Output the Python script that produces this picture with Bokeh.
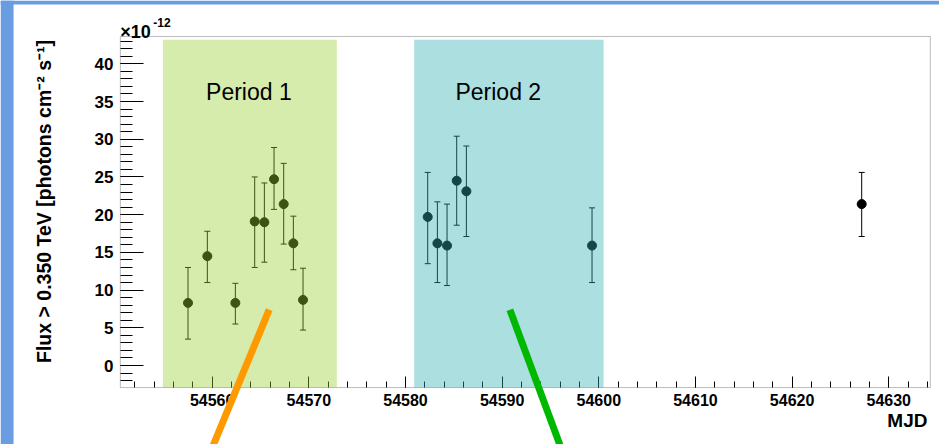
import math
from bokeh.plotting import figure
from bokeh.models import (Range1d, FixedTicker, ColumnDataSource, Whisker, TeeHead,
                          BoxAnnotation, Label, Arrow)
from bokeh.embed import file_html
from bokeh.resources import INLINE

# ---- data ----
mjd = [54557.5, 54559.5, 54562.4, 54564.4, 54565.4, 54566.4, 54567.4, 54568.4, 54569.4,
       54582.3, 54583.3, 54584.3, 54585.3, 54586.3, 54599.3,
       54627.2]
flux = [8.3, 14.5, 8.3, 19.1, 19.0, 24.7, 21.4, 16.2, 8.7,
        19.7, 16.2, 15.9, 24.5, 23.1, 15.9,
        21.4]
flux_hi = [13.0, 17.8, 10.9, 25.0, 24.2, 28.9, 26.8, 19.8, 12.9,
           25.6, 21.7, 21.4, 30.4, 29.1, 20.9,
           25.6]
flux_lo = [3.5, 11.0, 5.5, 13.0, 13.7, 20.7, 16.1, 12.7, 4.7,
           13.5, 11.0, 10.6, 18.6, 17.1, 11.0,
           17.1]

x_major_ticks = [54560, 54570, 54580, 54590, 54600, 54610, 54620, 54630]
x_minor_ticks = list(range(54552, 54635, 2))
y_major_ticks = [0, 5, 10, 15, 20, 25, 30, 35, 40]
y_minor_ticks = list(range(-2, 44))

# axis box (data limits of the plotted area)
axis_x0, axis_x1 = 54550.5, 54634.3
axis_y0, axis_y1 = -2.92, 43.62

y_title = "Flux > 0.350 TeV [photons cm\u207b\u00b2 s\u207b\u00b9]"
x_title = "MJD"

period_names = ["Period 1", "Period 2"]
period_start = [54554.9, 54580.9]
period_end = [54572.9, 54600.5]
period_top = 43.2
period_label_x = [54563.8, 54589.6]
period_label_y = 36.2
period_colors = ["#98cf2f", "#2fafb1"]

# slide pointer strokes (start/end in data units)
pointer_x0 = [54565.9, 54590.8]
pointer_y0 = [7.4, 7.4]
pointer_x1 = [54560.1, 54596.0]
pointer_y1 = [-10.6, -10.6]
pointer_colors = ["#ff9900", "#00b800"]

FONT = "Liberation Sans"
SLIDE_BLUE = "#6a9ce2"

p = figure(width=939, height=444, output_backend="svg", toolbar_location=None,
           x_range=Range1d(54538.1, 54635.25), y_range=Range1d(-10.47, 48.39),
           min_border_left=0, min_border_right=0, min_border_top=0, min_border_bottom=0)
p.background_fill_color = "white"
p.border_fill_color = "white"
p.outline_line_color = None
p.grid.visible = False

# slide background strips
p.add_layout(BoxAnnotation(right=54539.45, fill_color=SLIDE_BLUE, fill_alpha=1, line_alpha=0, level="underlay"))
p.add_layout(BoxAnnotation(bottom=47.86, fill_color=SLIDE_BLUE, fill_alpha=1, line_alpha=0, level="underlay"))

# plot box
p.add_layout(BoxAnnotation(left=axis_x0, right=axis_x1, bottom=axis_y0, top=axis_y1,
                           fill_alpha=0, line_color="#222222", line_width=1, level="underlay"))

# axes placed at the box edges
xa = p.xaxis[0]
ya = p.yaxis[0]
xa.fixed_location = axis_y0
ya.fixed_location = axis_x0
xa.ticker = FixedTicker(ticks=x_major_ticks, minor_ticks=x_minor_ticks)
ya.ticker = FixedTicker(ticks=y_major_ticks, minor_ticks=y_minor_ticks)
for ax in (xa, ya):
    ax.axis_line_color = None
    ax.major_tick_line_color = "black"
    ax.minor_tick_line_color = "black"
    ax.major_tick_out = 0
    ax.minor_tick_out = 0
    ax.major_label_text_font = FONT
    ax.major_label_text_font_style = "bold"
    ax.major_label_text_color = "black"
xa.major_tick_in = 11
xa.minor_tick_in = 6
xa.major_label_text_font_size = "16px"
xa.major_label_standoff = 6
ya.major_tick_in = 23
ya.minor_tick_in = 12
ya.major_label_text_font_size = "17px"
ya.major_label_standoff = 7

# data points
src = ColumnDataSource(dict(x=mjd, y=flux, hi=flux_hi, lo=flux_lo))
p.add_layout(Whisker(base="x", upper="hi", lower="lo", source=src, line_color="black", line_width=1,
                     upper_head=TeeHead(size=6, line_color="black", line_width=1),
                     lower_head=TeeHead(size=6, line_color="black", line_width=1)))
p.scatter("x", "y", source=src, size=9, color="black")

# period bands (translucent, above everything)
for s, e, c in zip(period_start, period_end, period_colors):
    p.add_layout(BoxAnnotation(left=s, right=e, bottom=axis_y0, top=period_top, fill_color=c,
                               fill_alpha=0.4, line_alpha=0, level="overlay"))
for name, lx in zip(period_names, period_label_x):
    p.add_layout(Label(x=lx, y=period_label_y, text=name, text_align="center", text_baseline="middle",
                       text_font=FONT, text_font_size="23px", text_color="black", level="overlay"))

# axis titles and exponent
p.add_layout(Label(x=54542.6, y=21.74, text=y_title, angle=math.pi / 2, text_align="center",
                   text_baseline="middle", text_font=FONT, text_font_style="bold",
                   text_font_size="19.5px", text_color="black"))
p.add_layout(Label(x=axis_x0, y=44.15, text="\u00d710", text_font=FONT, text_font_style="bold",
                   text_font_size="18px", text_baseline="alphabetic", text_color="black"))
p.add_layout(Label(x=54553.9, y=45.5, text="-12", text_font=FONT, text_font_style="bold",
                   text_font_size="12px", text_baseline="alphabetic", text_color="black"))
p.add_layout(Label(x=54634.0, y=-7.3, text=x_title, text_font=FONT, text_font_style="bold",
                   text_font_size="19px", text_align="right", text_baseline="middle", text_color="black"))

# pointer strokes
for x0, y0, x1, y1, c in zip(pointer_x0, pointer_y0, pointer_x1, pointer_y1, pointer_colors):
    p.add_layout(Arrow(end=None, x_start=x0, y_start=y0, x_end=x1, y_end=y1,
                       line_color=c, line_width=7, level="overlay"))

open("out.html", "w").write(file_html(p, INLINE))
